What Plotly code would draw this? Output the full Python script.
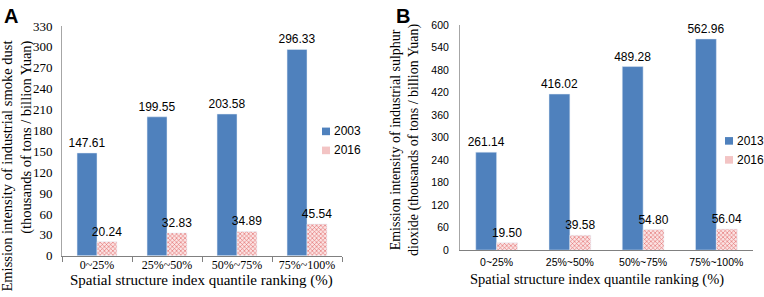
import plotly.graph_objects as go

categories = ["0~25%", "25%~50%", "50%~75%", "75%~100%"]
a_2003 = [147.61, 199.55, 203.58, 296.33]
a_2016 = [20.24, 32.83, 34.89, 45.54]
b_2013 = [261.14, 416.02, 489.28, 562.96]
b_2016 = [19.50, 39.58, 54.80, 56.04]

BLUE = "#4f81bd"
RED = "#e06666"
PINK = "#f3c4c4"
SERIF = "Liberation Serif, Times New Roman, serif"
SANS = "Liberation Sans, Arial, sans-serif"
W, H = 764, 297

def px_x(x):
    return x / W

def px_y(y):
    return 1 - y / H

pattern = dict(shape="x", size=3, solidity=0.35, fgcolor=RED, bgcolor="#fbe3e3", fillmode="replace")
lbl = dict(family=SANS, size=12, color="#000")

fig = go.Figure()
fig.add_trace(go.Bar(x=categories, y=a_2003, name="2003", marker_color=BLUE,
                     text=[f"{v:.2f}" for v in a_2003], textposition="outside", constraintext="none",
                     textfont=lbl, cliponaxis=False, xaxis="x", yaxis="y"))
fig.add_trace(go.Bar(x=categories, y=a_2016, name="2016", marker=dict(color=PINK, pattern=pattern),
                     text=[f"{v:.2f}" for v in a_2016], textposition="outside", constraintext="none",
                     textfont=lbl, cliponaxis=False, xaxis="x", yaxis="y"))
fig.add_trace(go.Bar(x=categories, y=b_2013, name="2013", marker_color=BLUE,
                     text=[f"{v:.2f}" for v in b_2013], textposition="outside", constraintext="none",
                     textfont=lbl, cliponaxis=False, xaxis="x2", yaxis="y2"))
fig.add_trace(go.Bar(x=categories, y=b_2016, name="2016", marker=dict(color=PINK, pattern=pattern),
                     text=[f"{v:.2f}" for v in b_2016], textposition="outside", constraintext="none",
                     textfont=lbl, cliponaxis=False, xaxis="x2", yaxis="y2"))
fig.update_traces(showlegend=False)

# manual legend keys (legend of each panel)
legend_items = [
    (322, 131, BLUE, "2003"), (322, 151, PINK, "2016"),
    (725, 141, BLUE, "2013"), (725, 161, PINK, "2016"),
]
shapes = []
anns = []
for lx, ly, col, name in legend_items:
    shapes.append(dict(type="rect", xref="paper", yref="paper",
                       x0=px_x(lx), x1=px_x(lx + 8), y0=px_y(ly + 4), y1=px_y(ly - 4),
                       fillcolor=col, line=dict(width=0)))
    anns.append(dict(text=name, x=px_x(lx + 10), y=px_y(ly), xref="paper", yref="paper",
                     xanchor="left", yanchor="middle", showarrow=False,
                     font=dict(family=SANS, size=12, color="#000")))

fig.update_layout(
    width=W, height=H,
    margin=dict(l=0, r=0, t=0, b=0),
    paper_bgcolor="white", plot_bgcolor="white",
    barmode="group", bargap=0.43, bargroupgap=0,
    showlegend=False,
    xaxis=dict(domain=[px_x(62), px_x(342)], anchor="y", showline=True, linecolor="#808080",
               linewidth=1, ticks="outside", tickson="boundaries", ticklen=5, tickcolor="#808080",
               tickangle=0, tickfont=dict(family=SERIF, size=12, color="#000"), showgrid=False,
               ticklabelstandoff=-2),
    yaxis=dict(domain=[px_y(262), px_y(20)], anchor="x", range=[0, 330], dtick=30,
               showline=True, linecolor="#a6a6a6", linewidth=1, ticks="",
               tickfont=dict(family=SERIF, size=13, color="#000"), showgrid=False,
               ticklabelstandoff=6, zeroline=False),
    xaxis2=dict(domain=[px_x(460), px_x(753)], anchor="y2", showline=True, linecolor="#808080",
                linewidth=1, ticks="", tickangle=0, tickfont=dict(family=SANS, size=10.5, color="#000"),
                showgrid=False, ticklabelstandoff=2),
    yaxis2=dict(domain=[px_y(256), px_y(19)], anchor="x2", range=[0, 600], dtick=60,
                showline=True, linecolor="#a6a6a6", linewidth=1, ticks="",
                tickfont=dict(family=SANS, size=10.5, color="#000"), showgrid=False,
                ticklabelstandoff=8, zeroline=False),
    shapes=shapes,
    annotations=anns + [
        dict(text="<b>A</b>", x=px_x(11), y=px_y(9), xref="paper", yref="paper", showarrow=False,
             xanchor="center", yanchor="middle", font=dict(family=SANS, size=20, color="#000")),
        dict(text="<b>B</b>", x=px_x(403), y=px_y(9), xref="paper", yref="paper", showarrow=False,
             xanchor="center", yanchor="middle", font=dict(family=SANS, size=20, color="#000")),
        dict(text="Emission intensity of industrial smoke dust<br>(thousands of tons / billion Yuan)",
             x=px_x(17), y=px_y(168), xref="paper", yref="paper", showarrow=False, textangle=-90,
             align="right", xanchor="center", yanchor="middle",
             font=dict(family=SERIF, size=14.5, color="#000")),
        dict(text="Emission intensity of industrial sulphur<br>dioxide (thousands of tons / billion Yuan)",
             x=px_x(405), y=px_y(140), xref="paper", yref="paper", showarrow=False, textangle=-90,
             xanchor="center", yanchor="middle", font=dict(family=SERIF, size=14, color="#000")),
        dict(text="Spatial structure index quantile ranking (%)", x=px_x(201), y=px_y(288),
             xref="paper", yref="paper", showarrow=False, xanchor="center", yanchor="middle",
             font=dict(family=SERIF, size=15, color="#000")),
        dict(text="Spatial structure index quantile ranking (%)", x=px_x(597), y=px_y(287),
             xref="paper", yref="paper", showarrow=False, xanchor="center", yanchor="middle",
             font=dict(family=SERIF, size=14.5, color="#000")),
    ],
)

fig.write_html("out.html", config={"displayModeBar": False},
               post_script="document.body.style.margin='0';document.body.style.overflow='hidden';")
